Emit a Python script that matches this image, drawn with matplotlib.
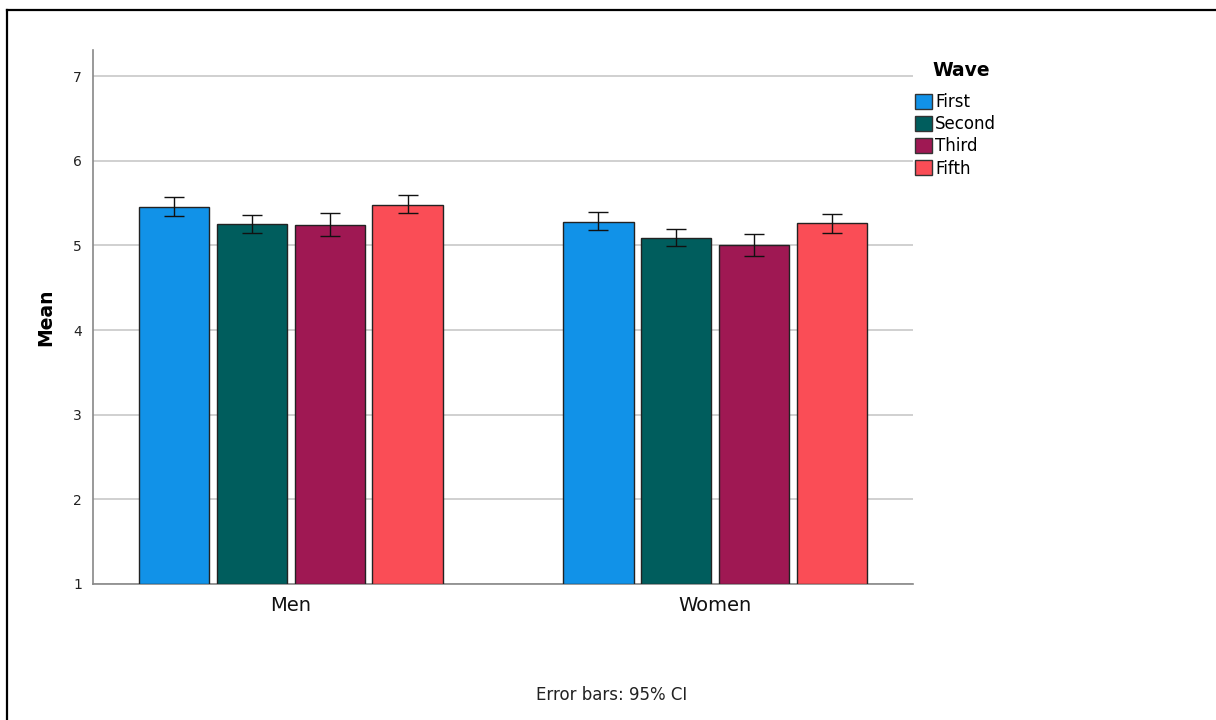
import numpy as np
import matplotlib.pyplot as plt
from matplotlib.patches import Patch
from matplotlib.lines import Line2D

groups = ['Men', 'Women']
waves = ['First', 'Second', 'Third', 'Fifth']
colors = ['#1192e8', '#005d5d', '#9f1853', '#fa4d56']

# means per wave, order: Men, Women
means = {
    'First':  [5.46, 5.28],
    'Second': [5.25, 5.09],
    'Third':  [5.24, 5.01],
    'Fifth':  [5.48, 5.26],
}
ci_low = {
    'First':  [5.35, 5.18],
    'Second': [5.15, 4.99],
    'Third':  [5.11, 4.88],
    'Fifth':  [5.38, 5.15],
}
ci_high = {
    'First':  [5.57, 5.39],
    'Second': [5.36, 5.20],
    'Third':  [5.38, 5.13],
    'Fifth':  [5.60, 5.37],
}

plt.rcParams['font.family'] = 'DejaVu Sans'
fig = plt.figure(figsize=(12.16, 7.2), dpi=100)
ax = fig.add_axes([0.0765, 0.189, 0.6743, 0.7416])

x = np.arange(len(groups))
width = 0.165
step = 0.1835
for i, w in enumerate(waves):
    pos = x + (i - 1.5) * step
    m = np.array(means[w])
    lo = m - np.array(ci_low[w])
    hi = np.array(ci_high[w]) - m
    ax.bar(pos, m - 1, width, bottom=1, color=colors[i], edgecolor='#222222',
           linewidth=1.0, zorder=3)
    ax.errorbar(pos, m, yerr=[lo, hi], fmt='none', ecolor='#111111',
                elinewidth=1.0, capsize=7, capthick=1.0, zorder=4)

ax.set_xlim(-0.465, 1.465)
ax.set_ylim(1, 7.31)
ax.set_yticks([1, 2, 3, 4, 5, 6, 7])
ax.set_xticks(x)
ax.set_xticklabels(groups, fontsize=14)
ax.tick_params(axis='y', length=0, pad=8, labelsize=10, colors='#222222')
ax.tick_params(axis='x', length=0, pad=9, colors='#111111')
ax.grid(axis='y', color='#c8c8c8', linewidth=1.2, zorder=0)
for s in ['top', 'right']:
    ax.spines[s].set_visible(False)
for s in ['left', 'bottom']:
    ax.spines[s].set_color('#888888')
    ax.spines[s].set_linewidth(1.2)
ax.set_ylabel('Mean', fontsize=13.5, fontweight='bold', labelpad=13)

fig.text(932 / 1216, 1 - 70 / 720, 'Wave', ha='left', va='center',
         fontsize=13.5, fontweight='bold')
handles = [Patch(facecolor=c, edgecolor='#333333', linewidth=1.0) for c in colors]
fig.legend(handles, waves, loc='upper left', bbox_to_anchor=(915 / 1216, 1 - 93 / 720),
           frameon=False, fontsize=12, borderpad=0,
           handlelength=1.0, handleheight=1.0, handletextpad=0.2,
           labelspacing=0.25, borderaxespad=0)

fig.text(0.503, 0.035, 'Error bars: 95% CI', ha='center', va='center',
         fontsize=12, color='#222222')

# border of the screenshot frame (left and top edges)
fig.add_artist(Line2D([6.5 / 1216, 6.5 / 1216], [0, 1 - 10 / 720],
                      transform=fig.transFigure, color='black', linewidth=1.6))
fig.add_artist(Line2D([6.5 / 1216, 1], [1 - 10 / 720, 1 - 10 / 720],
                      transform=fig.transFigure, color='black', linewidth=1.6))

fig.savefig('out.png', dpi=100)
